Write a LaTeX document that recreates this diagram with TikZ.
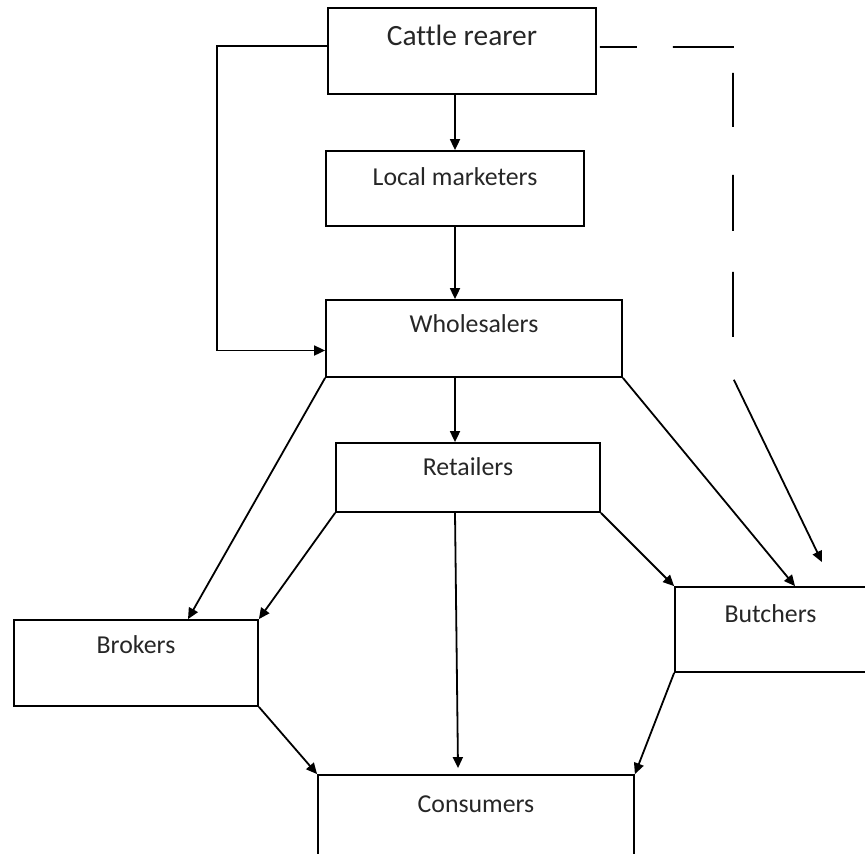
\documentclass[tikz,border=0pt]{standalone}
\usepackage{fontspec}
\setmainfont{Carlito}[Ligatures=NoCommon]
\usetikzlibrary{arrows.meta}

\tikzset{box/.style n args={4}{draw,inner sep=0pt,minimum width=#1,minimum height=#2,
                               text height=#3,text depth=#4}}

\begin{document}
\begin{tikzpicture}[x=0.5pt,y=-0.5pt,line width=0.9pt,
                    >={Triangle[length=5.5pt,width=5pt]},
                    every node/.style={font=\fontsize{12.9}{15}\selectfont,text=black!85}]
		\clip (0,0) rectangle (865,853);
		\node (rearer) [box={134pt}{43pt}{18.5pt}{24.5pt},font=\fontsize{14.7}{17}\selectfont] at (462,51) {Cattle rearer};
		\node (local) [box={129pt}{37.5pt}{17pt}{20.5pt}] at (455,188.5) {Local marketers};
		\node (whole) [box={148pt}{38.5pt}{16pt}{22.5pt}] at (474,338.5) {Wholesalers};
		\node (retail) [box={132pt}{34.5pt}{16pt}{18.5pt}] at (468,477.5) {Retailers};
		\node (brokers) [box={122pt}{43pt}{16.5pt}{26.5pt}] at (136,663) {Brokers};
		\node (butchers) [box={95.5pt}{42.5pt}{17.5pt}{25pt}] at (770.5,629.5) {Butchers};
		\node (consumers) [box={158pt}{80pt}{18.5pt}{61.5pt}] at (476,855) {Consumers};

		%% main chain
		\draw[->] ([xshift=-3.5pt]rearer.south) -- (local.north);
		\draw[->] (local.south) -- (local.south |- whole.north);
		\draw[->] (local.south |- whole.south) -- (local.south |- retail.north);
		%% side way round local marketers
		\draw[->] ([yshift=2.5pt]rearer.west) -- ++(-110,0) |- ([yshift=-6pt]whole.west);
		%% out of wholesalers
		\draw[->] (whole.south west) -- ([xshift=26pt]brokers.north);
		\draw[->] (whole.south east) -- ([xshift=12.25pt]butchers.north);
		%% out of retailers
		\draw[->] (retail.south west) -- (brokers.north east);
		\draw[->] ([xshift=-6.5pt]retail.south) -- ([xshift=-9pt,yshift=3pt]consumers.north);
		\draw[->] (retail.south east) -- (butchers.north west);
		%% to consumers
		\draw[->] (brokers.south east) -- (consumers.north west);
		\draw[->] (butchers.south west) -- (consumers.north east);
		%% direct to butchers
		\draw[->,dash pattern=on 18.5pt off 18pt on 30.5pt off 12.5pt on 27pt off 24pt on 28pt off 20.5pt on 32.5pt off 21.5pt on 200pt off 0pt]
		     ([yshift=2pt,xshift=1.5pt]rearer.east) -- (733,47) -- (733,378)
		     -- ([xshift=25.75pt,yshift=12pt]butchers.north);
\end{tikzpicture}
\end{document}
